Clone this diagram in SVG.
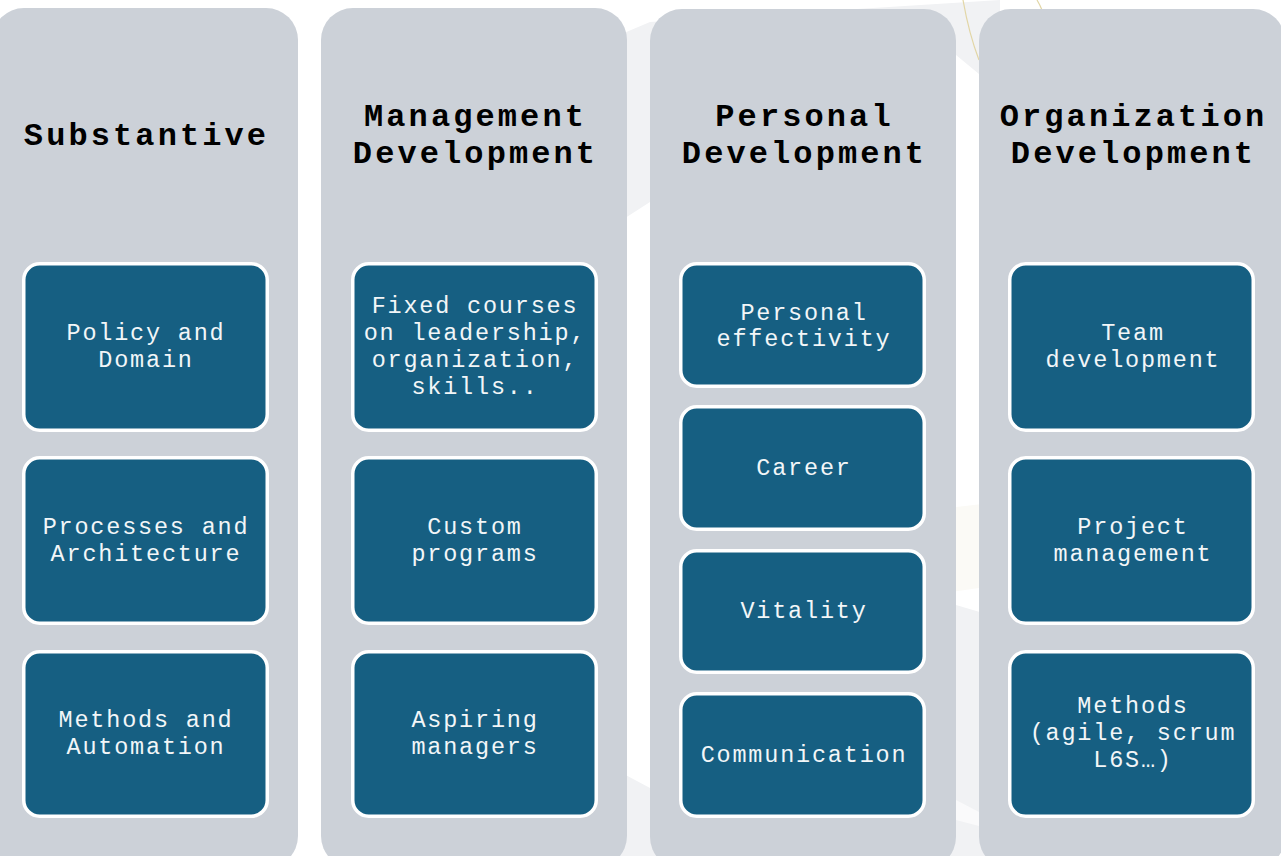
<svg xmlns="http://www.w3.org/2000/svg" width="1281" height="856" viewBox="0 0 1281 856">
<style>
.col{fill:#CCD1D8}
.box{fill:#165F82;stroke:#FFFFFF;stroke-width:3.5}
.hd{font-family:"Liberation Mono","Courier New",monospace;font-weight:bold;font-size:32px;letter-spacing:3.1px;fill:#000;text-anchor:middle}
.tx{font-family:"Liberation Mono","Courier New",monospace;font-size:23.5px;letter-spacing:1.8px;fill:#F2F6F8;text-anchor:middle}
.bg{fill:#F1F2F4}
</style>
<rect width="1281" height="856" fill="#FFFFFF"/>
<g id="background">
<polygon class="bg" points="560,60 650,22 1000,0 1000,80 979,74 956,55 650,202 560,260"/>
<polygon fill="#FBFAF6" points="930,510 1000,502 1000,585 930,595"/>
<polygon class="bg" points="560,740 650,788 956,605 1000,618 1000,856 560,856"/>
<polygon fill="#FAFAFB" points="956,800 979,812 979,826 956,820"/>
<path d="M963,0 Q969,34 979,60" fill="none" stroke="#E2D6A6" stroke-width="1.2"/>
<path d="M1037,0 Q1040,5 1042,10" fill="none" stroke="#E2D6A6" stroke-width="1.2"/>
</g>
<g id="connectors"></g>
<g id="col-substantive">
<rect class="col" x="-8" y="8" width="306" height="860" rx="32"/>
<text class="hd" x="146.5" y="145">Substantive</text>
</g>
<g id="col-management">
<rect class="col" x="321" y="8" width="306" height="860" rx="32"/>
<text class="hd" x="475.5" y="126">Management</text>
<text class="hd" x="475.5" y="163">Development</text>
</g>
<g id="col-personal">
<rect class="col" x="650" y="9" width="306" height="860" rx="32"/>
<text class="hd" x="804.5" y="126">Personal</text>
<text class="hd" x="804.5" y="163">Development</text>
</g>
<g id="col-organization">
<rect class="col" x="979" y="9" width="306" height="860" rx="32"/>
<text class="hd" x="1133.5" y="126">Organization</text>
<text class="hd" x="1133.5" y="163">Development</text>
</g>
<g id="policy-domain">
<rect class="box" x="23.75" y="263.75" width="243.5" height="166.5" rx="16"/>
<text class="tx" x="146" y="340">Policy and</text>
<text class="tx" x="146" y="367">Domain</text>
</g>
<g id="processes-architecture">
<rect class="box" x="23.75" y="457.75" width="243.5" height="165.5" rx="16"/>
<text class="tx" x="146" y="534">Processes and</text>
<text class="tx" x="146" y="561">Architecture</text>
</g>
<g id="methods-automation">
<rect class="box" x="23.75" y="651.75" width="243.5" height="164.5" rx="16"/>
<text class="tx" x="146" y="727">Methods and</text>
<text class="tx" x="146" y="754">Automation</text>
</g>
<g id="fixed-courses">
<rect class="box" x="352.75" y="263.75" width="243.5" height="166.5" rx="16"/>
<text class="tx" x="475" y="313">Fixed courses</text>
<text class="tx" x="475" y="340">on leadership,</text>
<text class="tx" x="475" y="367">organization,</text>
<text class="tx" x="475" y="394">skills..</text>
</g>
<g id="custom-programs">
<rect class="box" x="352.75" y="457.75" width="243.5" height="165.5" rx="16"/>
<text class="tx" x="475" y="534">Custom</text>
<text class="tx" x="475" y="561">programs</text>
</g>
<g id="aspiring-managers">
<rect class="box" x="352.75" y="651.75" width="243.5" height="164.5" rx="16"/>
<text class="tx" x="475" y="727">Aspiring</text>
<text class="tx" x="475" y="754">managers</text>
</g>
<g id="personal-effectivity">
<rect class="box" x="680.75" y="263.75" width="243.5" height="122.5" rx="16"/>
<text class="tx" x="804" y="320">Personal</text>
<text class="tx" x="804" y="346">effectivity</text>
</g>
<g id="career">
<rect class="box" x="680.75" y="406.75" width="243.5" height="122.5" rx="16"/>
<text class="tx" x="804" y="475">Career</text>
</g>
<g id="vitality">
<rect class="box" x="680.75" y="550.75" width="243.5" height="121.5" rx="16"/>
<text class="tx" x="804" y="618">Vitality</text>
</g>
<g id="communication">
<rect class="box" x="680.75" y="693.75" width="243.5" height="122.5" rx="16"/>
<text class="tx" x="804" y="762">Communication</text>
</g>
<g id="team-development">
<rect class="box" x="1009.75" y="263.75" width="243.5" height="166.5" rx="16"/>
<text class="tx" x="1133" y="340">Team</text>
<text class="tx" x="1133" y="367">development</text>
</g>
<g id="project-management">
<rect class="box" x="1009.75" y="457.75" width="243.5" height="165.5" rx="16"/>
<text class="tx" x="1133" y="534">Project</text>
<text class="tx" x="1133" y="561">management</text>
</g>
<g id="methods-agile">
<rect class="box" x="1009.75" y="651.75" width="243.5" height="164.5" rx="16"/>
<text class="tx" x="1133" y="713">Methods</text>
<text class="tx" x="1133" y="740">(agile, scrum</text>
<text class="tx" x="1133" y="767">L6S…)</text>
</g>
</svg>
